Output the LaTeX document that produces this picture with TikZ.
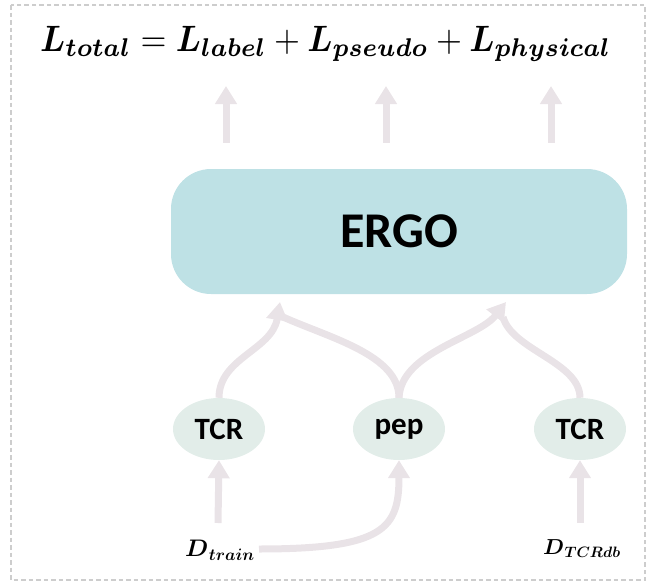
\documentclass[tikz,border=0pt]{standalone}
\usepackage{amsmath,bm}
\usepackage{graphicx}
\usepackage{fontspec}
\setmainfont{Carlito}
\usetikzlibrary{arrows.meta,shapes.geometric}
\definecolor{ergoc}{HTML}{BEE1E5}
\definecolor{ellc}{HTML}{E2EDE9}
\definecolor{arrc}{HTML}{E9E3E7}
\definecolor{bordc}{HTML}{CDCDCD}
\newcommand\bsub[2]{\boldsymbol{#1}_{\boldsymbol{#2}}}
\newcommand\dsub[2]{{\fontsize{24}{24}\selectfont$\boldsymbol{#1}$}\kern0.5pt\raisebox{-4.5pt}{\fontsize{17}{17}\selectfont$\boldsymbol{#2}$}}
\tikzset{
  flow/.style={draw=arrc, line width=7pt, -{Triangle[width=21pt,length=18pt]}},
  flowline/.style={draw=arrc, line width=7pt},
  blob/.style={ellipse, fill=ellc, minimum width=92pt, minimum height=62pt, inner sep=0pt, font=\fontsize{31}{31}\selectfont\bfseries},
  model/.style={rounded corners=40pt, fill=ergoc, minimum width=456pt, minimum height=125pt, font=\fontsize{50}{50}\selectfont\bfseries},
  mathlabel/.style={anchor=base west, inner sep=0pt},
}
\begin{document}
\begin{tikzpicture}[x=1pt,y=-1pt]
\useasboundingbox (0,0) rectangle (649,582);
\draw[bordc, line width=1.5pt, dash pattern=on 4.5pt off 3pt] (11,5) rectangle (645,580);

% equation
\node[mathlabel] (eq) at (40,51) {\scalebox{1}[1.1]{\resizebox{571pt}{!}{$\bsub{L}{total}=\bsub{L}{label}+\bsub{L}{pseudo}+\bsub{L}{physical}$}}};

% model
\node[model] (ergo) at (399,231.5) {ERGO};

% input nodes
\node[blob] (tcr1) at (219,429) {TCR};
\node[blob] (pep) at (399,429) {pep};
\node[blob] (tcr2) at (580,429) {TCR};

% data labels
\node[mathlabel] (dtrain) at (185,556) {\resizebox{69pt}{!}{\dsub{D}{train}}};
\node[mathlabel] (dtcr) at (543,554) {\resizebox{77pt}{!}{\dsub{D}{TCRdb}}};

% coordinates
\coordinate (o1) at (226,143); \coordinate (t1) at (226,86);
\coordinate (o2) at (386,143); \coordinate (t2) at (386,86);
\coordinate (o3) at (551,143); \coordinate (t3) at (551,86);
\coordinate (tipL) at (280,302);
\coordinate (tipR) at (506,302);
\coordinate (endL) at (283,317);
\coordinate (endR) at (503,317);
\coordinate (dtrup) at (218,523);
\coordinate (dtrr) at (259,549);
\coordinate (dtcrup) at (580,523);

% output arrows
\draw[flow] (o1) -- (t1);
\draw[flow] (o2) -- (t2);
\draw[flow] (o3) -- (t3);

% inputs to model
\draw[flowline] (pep.north) .. controls (399,355) and (330,338) .. (endL);
\draw[flowline] (tcr2.north) .. controls (580,362) and (512,350) .. (endR);
\draw[flow] (tcr1.north) .. controls (219,358) and (272,350) .. (tipL);
\draw[flow] (pep.north) .. controls (401,352) and (478,338) .. (tipR);

% data to inputs
\draw[flow] (dtrup) -- (tcr1.south);
\draw[flow] (dtrr) .. controls (385,549) and (399,528) .. (pep.south);
\draw[flow] (dtcrup) -- (tcr2.south);
\end{tikzpicture}
\end{document}
